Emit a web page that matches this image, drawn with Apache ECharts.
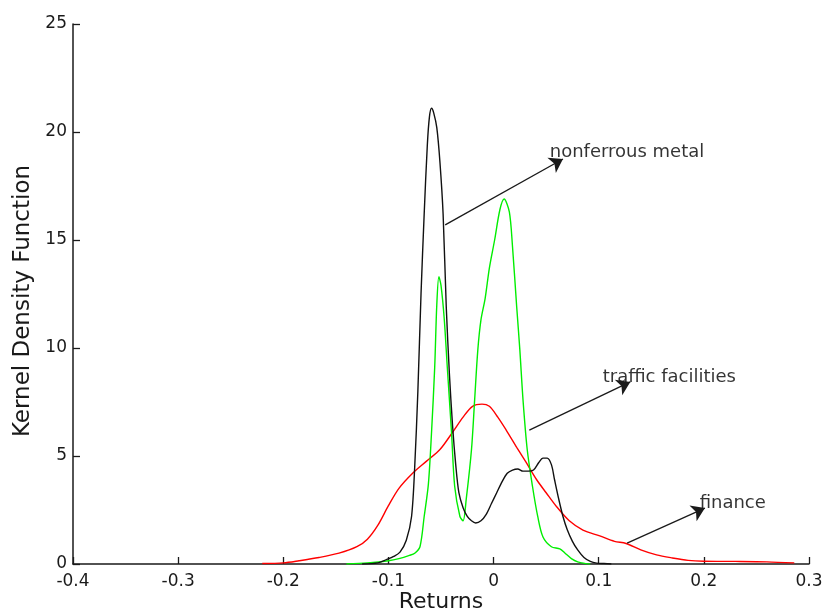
<!DOCTYPE html>
<html>
<head>
<meta charset="utf-8">
<title>Kernel Density Function of Returns</title>
<script src="https://cdn.jsdelivr.net/npm/echarts@6/dist/echarts.min.js"></script>
</head>
<body style="margin:0;background:#fff">
<div id="main" style="width:826px;height:614px;"></div>
<script type="text/javascript">
// nonferrous metal (black)
var metalX = [-0.125, -0.11, -0.102, -0.095, -0.089, -0.083, -0.078, -0.075, -0.072, -0.069, -0.066, -0.063, -0.061, -0.059, -0.057, -0.054, -0.051, -0.048, -0.045, -0.042, -0.039, -0.036, -0.033, -0.029, -0.025, -0.021, -0.017, -0.012, -0.007, -0.002, 0.003, 0.008, 0.013, 0.018, 0.023, 0.028, 0.033, 0.038, 0.043, 0.047, 0.051, 0.055, 0.058, 0.062, 0.066, 0.070, 0.075, 0.080, 0.086, 0.092, 0.098, 0.105, 0.112];
var metalY = [0, 0.05, 0.2, 0.35, 0.55, 1.1, 2.2, 4.5, 8.0, 12.5, 16.2, 19.4, 20.7, 21.1, 20.9, 20.2, 18.6, 16.2, 11.9, 8.8, 6.4, 4.6, 3.3, 2.6, 2.2, 2.0, 1.9, 2.0, 2.3, 2.8, 3.3, 3.8, 4.2, 4.35, 4.4, 4.3, 4.3, 4.35, 4.7, 4.9, 4.9, 4.6, 3.9, 3.0, 2.2, 1.6, 1.05, 0.65, 0.3, 0.12, 0.04, 0.02, 0];

// traffic facilities (green)
var trafficX = [-0.14, -0.12, -0.10, -0.09, -0.08, -0.075, -0.070, -0.066, -0.062, -0.059, -0.056, -0.054, -0.052, -0.050, -0.047, -0.044, -0.040, -0.037, -0.032, -0.029, -0.026, -0.021, -0.018, -0.015, -0.012, -0.008, -0.004, 0.001, 0.006, 0.010, 0.015, 0.018, 0.022, 0.025, 0.028, 0.032, 0.037, 0.042, 0.047, 0.055, 0.063, 0.068, 0.074, 0.080, 0.088, 0.092];
var trafficY = [0, 0.05, 0.15, 0.25, 0.4, 0.5, 0.8, 2.2, 3.7, 6.1, 9.1, 12.0, 13.3, 12.9, 11.4, 9.1, 6.1, 3.6, 2.2, 2.0, 3.0, 5.3, 7.6, 9.9, 11.3, 12.3, 13.7, 15.0, 16.4, 16.9, 16.3, 14.7, 11.9, 9.9, 7.6, 5.3, 3.6, 2.2, 1.25, 0.8, 0.7, 0.5, 0.25, 0.1, 0.02, 0];

// finance (red)
var financeX = [-0.22, -0.20, -0.185, -0.166, -0.147, -0.13, -0.12, -0.11, -0.1, -0.09, -0.077, -0.064, -0.051, -0.039, -0.029, -0.020, -0.011, -0.004, 0.004, 0.012, 0.022, 0.031, 0.041, 0.050, 0.060, 0.072, 0.085, 0.101, 0.115, 0.126, 0.140, 0.155, 0.170, 0.185, 0.200, 0.230, 0.260, 0.286];
var financeY = [0.02, 0.05, 0.15, 0.3, 0.5, 0.8, 1.15, 1.8, 2.7, 3.5, 4.2, 4.75, 5.3, 6.1, 6.8, 7.3, 7.4, 7.3, 6.8, 6.2, 5.4, 4.7, 3.9, 3.3, 2.65, 2.0, 1.57, 1.3, 1.05, 0.95, 0.65, 0.42, 0.28, 0.17, 0.13, 0.12, 0.1, 0.05];

// annotations: arrow start, arrow tip, text anchor (left, middle)
var noteNames = ['nonferrous metal', 'traffic facilities', 'finance'];
var noteFrom = [[-0.046, 15.7], [0.034, 6.2], [0.127, 0.97]];
var noteTo = [[0.066, 18.75], [0.130, 8.43], [0.201, 2.59]];
var noteAt = [[0.0534, 19.08], [0.1038, 8.65], [0.196, 2.8]];

var xTicks = { min: -0.4, max: 0.3, step: 0.1 };
var yTicks = { min: 0, max: 25, step: 5 };

function pairs(xs, ys) {
  return xs.map(function (x, i) { return [x, ys[i]]; });
}

var font = 'DejaVu Sans';
var ink = '#1a1a1a';

var myChart = echarts.init(document.getElementById('main'));

var option = {
  animation: false,
  backgroundColor: '#fff',
  grid: { left: 73, right: 17, top: 24, bottom: 50, containLabel: false, outerBoundsMode: 'none' },
  xAxis: {
    type: 'value',
    min: xTicks.min,
    max: xTicks.max,
    interval: xTicks.step,
    name: 'Returns',
    nameLocation: 'middle',
    nameGap: 27,
    nameMoveOverlap: false,
    nameTextStyle: { fontFamily: font, fontSize: 22, color: ink },
    axisLine: { show: true, onZero: false, lineStyle: { color: ink, width: 1.5 } },
    axisTick: { show: true, inside: true, length: 7, lineStyle: { color: ink, width: 1.3 } },
    axisLabel: {
      fontFamily: font, fontSize: 17, color: ink, margin: 9,
      formatter: function (v) { return String(+v.toFixed(1)); }
    },
    splitLine: { show: false }
  },
  yAxis: {
    type: 'value',
    min: yTicks.min,
    max: yTicks.max,
    interval: yTicks.step,
    name: 'Kernel Density Function',
    nameLocation: 'middle',
    nameGap: 38,
    nameMoveOverlap: false,
    nameTextStyle: { fontFamily: font, fontSize: 23, color: ink, padding: [0, 14, 0, 0] },
    axisLine: { show: true, onZero: false, lineStyle: { color: ink, width: 1.5 } },
    axisTick: { show: true, inside: true, length: 7, lineStyle: { color: ink, width: 1.3 } },
    axisLabel: { fontFamily: font, fontSize: 17, color: ink, margin: 6 },
    splitLine: { show: false }
  },
  series: [{
    name: 'finance',
    type: 'line',
    showSymbol: false,
    smooth: 0.3,
    lineStyle: { color: '#ff0000', width: 1.4 },
    data: pairs(financeX, financeY)
  }, {
    name: 'traffic facilities',
    type: 'line',
    showSymbol: false,
    smooth: 0.3,
    lineStyle: { color: '#00ee00', width: 1.4 },
    data: pairs(trafficX, trafficY)
  }, {
    name: 'nonferrous metal',
    type: 'line',
    showSymbol: false,
    smooth: 0.3,
    lineStyle: { color: '#111', width: 1.4 },
    data: pairs(metalX, metalY)
  }, {
    name: 'notes',
    type: 'scatter',
    symbolSize: 0,
    silent: true,
    label: {
      show: true,
      position: 'right',
      distance: 0,
      fontFamily: font,
      fontSize: 18,
      color: '#000',
      formatter: function (p) { return p.data[2]; }
    },
    data: noteAt.map(function (p, i) { return [p[0], p[1], noteNames[i]]; }),
    markLine: {
      silent: true,
      symbol: ['none', 'arrow'],
      symbolSize: 13,
      label: { show: false },
      lineStyle: { color: ink, width: 1.3, type: 'solid' },
      data: noteFrom.map(function (p, i) {
        return [{ coord: p }, { coord: noteTo[i] }];
      })
    }
  }]
};

myChart.setOption(option);
</script>
</body>
</html>
